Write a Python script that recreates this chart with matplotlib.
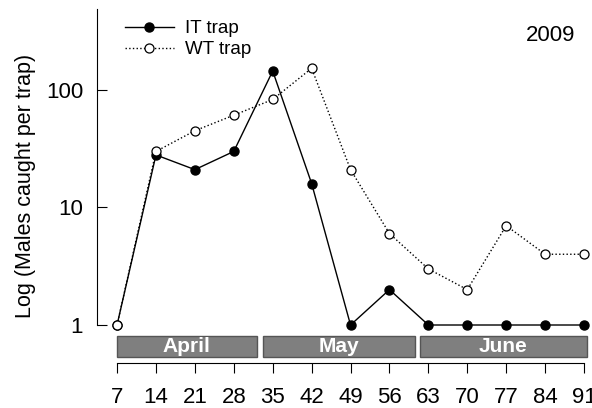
import numpy as np
import matplotlib.pyplot as plt

# Data
days = [7, 14, 21, 28, 35, 42, 49, 56, 63, 70, 77, 84, 91]
it_trap = [1, 28, 21, 30, 145, 16, 1, 2, 1, 1, 1, 1, 1]
wt_trap = [1, 30, 45, 61, 83, 153, 21, 6, 3, 2, 7, 4, 4]
months = ['April', 'May', 'June']
month_start = [7, 33.2, 61.5]
month_end = [32.1, 60.6, 91.5]

plt.rcParams['font.family'] = ['Liberation Sans', 'DejaVu Sans']

fig = plt.figure(figsize=(5.92, 4.08), dpi=100)
ax = fig.add_axes([0.1639, 0.1103, 0.8327, 0.8677])
ax.set_yscale('log')

ax.plot(days, it_trap, '-', color='black', lw=1, marker='o', ms=6.5,
        mfc='black', mec='black', label='IT trap', zorder=3)
ax.plot(days, wt_trap, ':', color='black', lw=1, marker='o', ms=6.5,
        mfc='white', mec='black', mew=0.9, label='WT trap', zorder=4)

# month bars under the data
for name, s, e in zip(months, month_start, month_end):
    ax.bar((s + e) / 2, 0.806 - 0.535, width=e - s, bottom=0.535,
           color='#7f7f7f', edgecolor='#555555', lw=1, zorder=2)
    ax.text((s + e) / 2, np.sqrt(0.535 * 0.806), name, color='white',
            fontsize=15, fontweight='bold', ha='center', va='center', zorder=3)

ax.set_xlim(3.4, 92.07)
ax.set_ylim(0.475, 489)

for side in ['top', 'right']:
    ax.spines[side].set_visible(False)
ax.spines['left'].set_bounds(1, 489)
ax.spines['bottom'].set_bounds(7, 91)

ax.set_yticks([1, 10, 100])
ax.set_yticklabels(['1', '10', '100'])
ax.minorticks_off()
ax.tick_params(axis='y', direction='in', length=7, pad=10, labelsize=16)
ax.set_xticks(days)
ax.tick_params(axis='x', direction='out', length=7, pad=10, labelsize=16)

ax.set_ylabel('Log (Males caught per trap)', fontsize=15.5, labelpad=7)

ax.text(0.97, 0.925, '2009', transform=ax.transAxes, fontsize=16,
        ha='right', va='center')
ax.legend(loc='upper left', bbox_to_anchor=(0.03, 1.005), frameon=False,
          fontsize=13.5, handlelength=2.6, labelspacing=0.2, borderpad=0.2,
          handletextpad=0.6)

fig.savefig('out.png', dpi=100)
